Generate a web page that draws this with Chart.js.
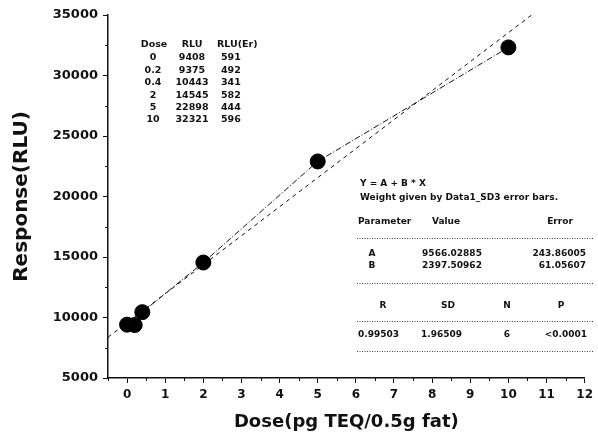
<!DOCTYPE html>
<html>
<head>
<meta charset="utf-8">
<script src="https://cdn.jsdelivr.net/npm/chart.js@4/dist/chart.umd.min.js"></script>
<style>
  html, body { margin: 0; padding: 0; background: #fff; }
  #wrap { width: 598px; height: 437px; }
</style>
</head>
<body>
<div id="wrap"><canvas id="c" width="598" height="437"></canvas></div>
<script>
// Datos
const doses = [0, 0.2, 0.4, 2, 5, 10];
const doseLabels = ['0', '0.2', '0.4', '2', '5', '10'];
const rlu = [9408, 9375, 10443, 14545, 22898, 32321];
const rluErr = [591, 492, 341, 582, 444, 596];

// Ajuste lineal Y = A + B * X
const fitNames = ['A', 'B'];
const fitValues = ['9566.02885', '2397.50962'];
const fitErrors = ['243.86005', '61.05607'];
const fitA = 9566.02885;
const fitB = 2397.50962;
const statNames = ['R', 'SD', 'N', 'P'];
const statValues = ['0.99503', '1.96509', '6', '<0.0001'];

// Ejes
const xTicks = [0, 1, 2, 3, 4, 5, 6, 7, 8, 9, 10, 11, 12];
const xMinorTicks = [-0.5, 0.5, 1.5, 2.5, 3.5, 4.5, 5.5, 6.5, 7.5, 8.5, 9.5, 10.5, 11.5];
const yTicks = [5000, 10000, 15000, 20000, 25000, 30000, 35000];
const yMinorTicks = [7500, 12500, 17500, 22500, 27500, 32500];

const FONT = "'DejaVu Sans', sans-serif";
const INK = '#111';

const points = doses.map((d, i) => ({ x: d, y: rlu[i] }));
const fitLine = [-0.5, 12].map(x => ({ x, y: fitA + fitB * x }));

// Marcas menores y textos del recuadro
const extras = {
  id: 'extras',
  afterDraw(chart) {
    const ctx = chart.ctx;
    const xs = chart.scales.x, ys = chart.scales.y;
    ctx.save();
    ctx.strokeStyle = INK;
    ctx.lineWidth = 1;
    ctx.beginPath();
    xMinorTicks.forEach(v => {
      const px = Math.round(xs.getPixelForValue(v)) + 0.5;
      ctx.moveTo(px, ys.bottom);
      ctx.lineTo(px, ys.bottom + 3);
    });
    yMinorTicks.forEach(v => {
      const py = Math.round(ys.getPixelForValue(v)) + 0.5;
      ctx.moveTo(xs.left, py);
      ctx.lineTo(xs.left - 3, py);
    });
    ctx.stroke();

    ctx.fillStyle = INK;
    ctx.textBaseline = 'middle';

    // Tabla de datos arriba a la izquierda
    ctx.font = 'bold 9.5px ' + FONT;
    ctx.textAlign = 'center';
    ctx.fillText('Dose', 154, 45);
    ctx.fillText('RLU', 192, 45);
    ctx.textAlign = 'left';
    ctx.fillText('RLU(Er)', 217, 45);
    doses.forEach((d, i) => {
      const y = 58 + i * 12.4;
      ctx.textAlign = 'center';
      ctx.fillText(doseLabels[i], 153, y);
      ctx.fillText(String(rlu[i]), 192, y);
      ctx.textAlign = 'left';
      ctx.fillText(String(rluErr[i]), 221, y);
    });

    // Resultados del ajuste
    ctx.font = 'bold 9px ' + FONT;
    ctx.textAlign = 'left';
    ctx.fillText('Y = A + B * X', 360, 184);
    ctx.fillText('Weight given by Data1_SD3 error bars.', 360, 198);
    ctx.fillText('Parameter', 358, 222);
    ctx.textAlign = 'center';
    ctx.fillText('Value', 446, 222);
    ctx.fillText('Error', 560, 222);
    fitNames.forEach((n, i) => {
      const y = 254 + i * 12;
      ctx.textAlign = 'center';
      ctx.fillText(n, 372, y);
      ctx.fillText(fitValues[i], 452, y);
      ctx.textAlign = 'right';
      ctx.fillText(fitErrors[i], 586, y);
    });
    const statX = [383, 448, 507, 561];
    statNames.forEach((n, i) => {
      ctx.textAlign = 'center';
      ctx.fillText(n, statX[i], 306);
    });
    ctx.textAlign = 'left';
    ctx.fillText(statValues[0], 358, 335);
    ctx.fillText(statValues[1], 421, 335);
    ctx.textAlign = 'center';
    ctx.fillText(statValues[2], 507, 335);
    ctx.textAlign = 'right';
    ctx.fillText(statValues[3], 587, 335);

    ctx.setLineDash([1, 1.5]);
    ctx.lineWidth = 0.8;
    ctx.beginPath();
    [238, 283, 321, 351].forEach(y => {
      ctx.moveTo(357, y + 0.5);
      ctx.lineTo(594, y + 0.5);
    });
    ctx.stroke();
    ctx.restore();
  }
};

new Chart(document.getElementById('c'), {
  type: 'scatter',
  data: {
    datasets: [
      {
        label: 'Ajuste',
        type: 'line',
        data: fitLine,
        borderColor: INK,
        borderWidth: 1,
        borderDash: [4, 4],
        pointRadius: 0,
        fill: false
      },
      {
        label: 'Datos',
        type: 'line',
        data: points,
        borderColor: INK,
        borderWidth: 1,
        borderDash: [6, 2, 1, 2],
        backgroundColor: '#000',
        pointBackgroundColor: '#000',
        pointBorderColor: '#000',
        pointRadius: 7.5,
        fill: false
      }
    ]
  },
  plugins: [extras],
  options: {
    responsive: false,
    animation: false,
    layout: { padding: { top: 15, right: 13, left: 0, bottom: 0 } },
    plugins: { legend: { display: false }, tooltip: { enabled: false } },
    scales: {
      x: {
        type: 'linear',
        min: -0.5,
        max: 12,
        afterBuildTicks: s => { s.ticks = xTicks.map(v => ({ value: v })); },
        afterFit: s => { s.height = 59; },
        grid: { drawOnChartArea: false, tickLength: 5, color: INK, lineWidth: 1 },
        border: { display: true, color: INK, width: 1.5 },
        ticks: { color: INK, font: { family: FONT, size: 12, weight: 'bold' }, padding: 5, maxRotation: 0,
                 callback: v => String(v) },
        title: { display: true, text: 'Dose(pg TEQ/0.5g fat)', color: INK,
                 font: { family: FONT, size: 18, weight: 'bold' }, padding: { top: 4, bottom: 4 } }
      },
      y: {
        type: 'linear',
        min: 5000,
        max: 35000,
        afterBuildTicks: s => { s.ticks = yTicks.map(v => ({ value: v })); },
        afterFit: s => { s.width = 108; },
        grid: { drawOnChartArea: false, tickLength: 5, color: INK, lineWidth: 1 },
        border: { display: true, color: INK, width: 1.5 },
        ticks: { color: INK, font: { family: FONT, size: 13, weight: 'bold' }, padding: 5,
                 callback: v => String(v) },
        title: { display: true, text: 'Response(RLU)', color: INK,
                 font: { family: FONT, size: 20, weight: 'bold' }, padding: { top: 10, bottom: 0 } }
      }
    }
  }
});
</script>
</body>
</html>
